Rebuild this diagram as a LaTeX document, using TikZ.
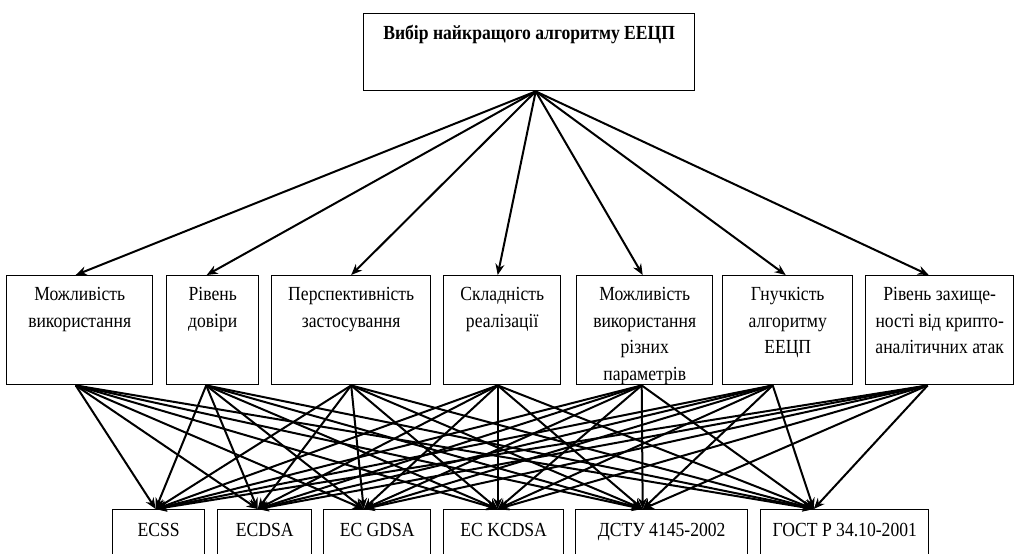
\documentclass[tikz,border=0pt]{standalone}
\usepackage{fontspec}
\setmainfont[FakeStretch=0.88]{Liberation Serif}
\usetikzlibrary{arrows.meta}
\newcommand{\boxtxt}[4]{\parbox[t][#2][t]{#1}{\centering\rule{0pt}{#3}#4}}
\tikzset{
  crit/.style={draw, line width=0.7pt, inner sep=0pt, anchor=north west,
    font=\fontsize{10}{13.3}\selectfont},
  link/.style={line width=1pt, -{Stealth[length=5.5pt,width=4.5pt]}}
}
\begin{document}
\begin{tikzpicture}[x=0.5pt,y=-0.5pt]
\useasboundingbox (0,0) rectangle (1016,553);
\clip (0,0) rectangle (1016,553);
% goal
\node[crit,font=\fontsize{10}{13.3}\selectfont\bfseries] (top) at (363,13)
  {\boxtxt{165.5pt}{38.5pt}{12.8pt}{Вибір найкращого алгоритму ЕЕЦП}};
% criteria
\node[crit] (m1) at (6,275)   {\boxtxt{73pt}{54.5pt}{12.5pt}{Можливість\\використання}};
\node[crit] (m2) at (166,275) {\boxtxt{46pt}{54.5pt}{12.5pt}{Рівень\\довіри}};
\node[crit] (m3) at (271,275) {\boxtxt{79.5pt}{54.5pt}{12.5pt}{Перспективність\\застосування}};
\node[crit] (m4) at (443,275) {\boxtxt{58.5pt}{54.5pt}{12.5pt}{Складність\\реалізації}};
\node[crit] (m5) at (576,275) {\boxtxt{68pt}{54.5pt}{12.5pt}{Можливість\\використання\\різних\\параметрів}};
\node[crit] (m6) at (722,275) {\boxtxt{65pt}{54.5pt}{12.5pt}{Гнучкість\\алгоритму\\ЕЕЦП}};
\node[crit] (m7) at (865,275) {\boxtxt{74pt}{54.5pt}{12.5pt}{Рівень захище-\\ності від крипто-\\аналітичних атак}};
% algorithms
\node[crit] (b1) at (112,509) {\boxtxt{46pt}{25.5pt}{13.5pt}{ECSS}};
\node[crit] (b2) at (217,509) {\boxtxt{47pt}{25.5pt}{13.5pt}{ECDSA}};
\node[crit] (b3) at (323,509) {\boxtxt{53.5pt}{25.5pt}{13.5pt}{EC GDSA}};
\node[crit] (b4) at (443,509) {\boxtxt{60pt}{25.5pt}{13.5pt}{EC KCDSA}};
\node[crit] (b5) at (575,509) {\boxtxt{86pt}{25.5pt}{13.5pt}{ДСТУ 4145-2002}};
\node[crit] (b6) at (760,509) {\boxtxt{84pt}{25.5pt}{13.5pt}{ГОСТ Р 34.10-2001}};
% goal -> criteria
\foreach \i/\p in {1/-2,2/-3,3/0,4/-2.25,5/-1,6/-1,7/-5.5}
  \draw[link] ([xshift=3.25pt]top.south) -- ([xshift=\p pt]m\i.north);
% criteria -> algorithms
\foreach \i/\q in {1/-2,2/-3.25,3/0,4/-2.25,5/-1.5,6/-7.5,7/-6}
  \foreach \j/\r in {1/-1.5,2/-3.5,3/-6.75,4/-3,5/-9.5,6/-15.5}
    \draw[link] ([xshift=\q pt]m\i.south) -- ([xshift=\r pt]b\j.north);
\end{tikzpicture}
\end{document}
